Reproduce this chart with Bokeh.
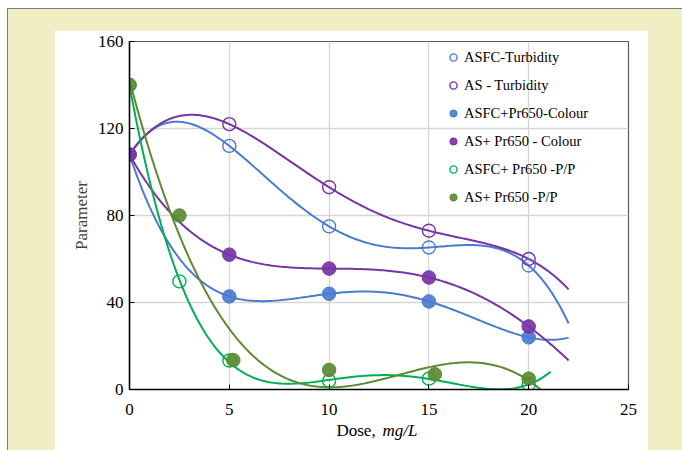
import numpy as np
from bokeh.plotting import figure
from bokeh.layouts import column
from bokeh.models import Legend, LegendItem, LinearAxis, FixedTicker, Range1d
from bokeh.embed import file_html
from bokeh.resources import INLINE

# ---- data ----
dose = [0, 5, 10, 15, 20]
asfc_turbidity = [108, 112, 75, 65.3, 57]
as_turbidity = [108, 122, 93, 73, 60]
asfc_colour = [108, 42.8, 44, 40.5, 24]
as_colour = [108, 62, 55.6, 51.5, 29]
dose_pp_asfc = [0, 2.5, 5, 10, 15, 20]
asfc_pp = [140, 49.7, 13.3, 4, 5, 2.3]
dose_pp_as = [0, 2.5, 5.2, 10, 15.3, 20]
as_pp = [140, 80, 13.5, 9, 7, 5]

labels = ["ASFC-Turbidity", "AS - Turbidity", "ASFC+Pr650-Colour",
          "AS+ Pr650 - Colour", "ASFC+ Pr650 -P/P", "AS+ Pr650 -P/P"]
x_ticks = [0, 5, 10, 15, 20, 25]
y_ticks = [0, 40, 80, 120, 160]
x_title_main = "Dose,"
x_title_unit = "mg/L"

FONT = "Liberation Serif"
BLUE = "#4A7BD0"
PURPLE = "#7634A6"
GREEN = "#00B050"
OLIVE = "#5A8A34"

p = figure(width=594, height=420, x_range=Range1d(0, 25), y_range=Range1d(0, 160),
           output_backend="svg", toolbar_location=None,
           min_border_left=75, min_border_right=20, min_border_top=11, min_border_bottom=61,
           border_fill_color="white", background_fill_color="white",
           margin=(21, 34, 0, 46))

# axes styling
for ax in (p.xaxis[0], p.yaxis[0]):
    ax.axis_line_color = "black"
    ax.axis_line_width = 1.5
    ax.major_tick_in = 5
    ax.major_tick_out = 0
    ax.major_tick_line_color = "black"
    ax.minor_tick_line_color = None
    ax.major_label_text_font = FONT
    ax.major_label_text_font_size = "17px"
    ax.major_label_text_color = "black"

p.xaxis.ticker = FixedTicker(ticks=x_ticks)
p.yaxis.ticker = FixedTicker(ticks=y_ticks)
p.xaxis.major_label_standoff = 14
p.yaxis.major_label_standoff = 6
p.yaxis.axis_label = "Parameter"
p.yaxis.axis_label_text_font = FONT
p.yaxis.axis_label_text_font_size = "17px"
p.yaxis.axis_label_text_font_style = "normal"
p.yaxis.axis_label_standoff = 4

p.xgrid.ticker = FixedTicker(ticks=x_ticks)
p.ygrid.ticker = FixedTicker(ticks=y_ticks)
p.grid.grid_line_color = "#d6d6d6"
p.grid.grid_line_width = 1.3
p.outline_line_color = "#5a5a5a"
p.outline_line_width = 1.2

# x axis title "Dose, mg/L" with the unit in italics: two helper axes carrying one label each
def title_axis(pos, text, style, standoff):
    ax = LinearAxis(ticker=FixedTicker(ticks=[pos]), major_label_overrides={pos: text},
                    axis_line_color=None, major_tick_line_color=None,
                    minor_tick_line_color=None, major_tick_in=0, major_tick_out=0,
                    major_label_text_font=FONT, major_label_text_font_size="17px",
                    major_label_text_font_style=style, major_label_text_color="black",
                    major_label_standoff=standoff)
    p.add_layout(ax, "below")
    return ax

title_axis(11.35, x_title_main, "normal", 3)
title_axis(13.55, x_title_unit, "italic", -22)

# polynomial trendlines (Excel-style) from the data
def trend(xs, ys, order, x_end):
    c = np.polyfit(xs, ys, order)
    xx = np.linspace(0, x_end, 200)
    return xx, np.polyval(c, xx)

series = [
    (dose, asfc_turbidity, 4, 22, BLUE, "open"),
    (dose, as_turbidity, 4, 22, PURPLE, "open"),
    (dose, asfc_colour, 4, 22, BLUE, "filled"),
    (dose, as_colour, 4, 22, PURPLE, "filled"),
    (dose_pp_asfc, asfc_pp, 4, 21.1, GREEN, "open"),
    (dose_pp_as, as_pp, 3, 21, OLIVE, "filled"),
]

for xs, ys, order, x_end, col, kind in series:
    xx, yy = trend(xs, ys, order, x_end)
    p.line(xx, yy, line_color=col, line_width=2)

items = []
for (xs, ys, order, x_end, col, kind), lab in zip(series, labels):
    if kind == "open":
        r = p.scatter(xs, ys, size=13, marker="circle", fill_color=None,
                      line_color=col, line_width=1.4)
    else:
        r = p.scatter(xs, ys, size=13.5, marker="circle", fill_color=col, fill_alpha=0.92,
                      line_color=col, line_width=1)
    items.append(LegendItem(label=lab, renderers=[r]))

legend = Legend(items=items, location=(315, 183))
legend.label_text_font = FONT
legend.label_text_font_size = "14.5px"
legend.label_text_color = "black"
legend.glyph_width = 18
legend.glyph_height = 18
legend.label_height = 18
legend.spacing = 10
legend.padding = 0
legend.margin = 0
legend.label_standoff = 2
legend.border_line_alpha = 0
legend.background_fill_alpha = 0
p.add_layout(legend)

page = column(p, width=675, height=442, margin=(8, 0, 0, 7),
              styles={"background-color": "#EFEDC2",
                      "border-left": "1px solid #7a7a7a",
                      "border-top": "1px solid #7a7a7a"})

open("out.html", "w").write(file_html(page, INLINE))
